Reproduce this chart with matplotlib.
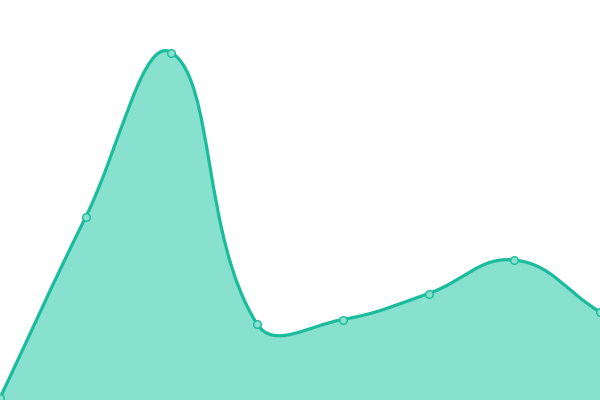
import matplotlib
matplotlib.use("Agg")
import matplotlib.pyplot as plt
from matplotlib.path import Path
from matplotlib.patches import PathPatch
import numpy as np

categories = ["1", "2", "3", "4", "5", "6", "7", "8"]
values = [2, 183, 347.5, 76, 80.5, 106.5, 140, 88]

LINE = "#1abc9c"
FILL = "#88e0cf"
W, H = 600, 400
smooth = 0.42

fig = plt.figure(figsize=(6, 4), dpi=100)
ax = fig.add_axes([0, 0, 1, 1])
n = len(values)
ax.set_xlim(0, n - 1)
ax.set_ylim(0, 400)
ax.axis("off")

sx = W / (n - 1)
pts = [(i * sx, v) for i, v in enumerate(values)]

def ctrl(i):
    x, y = pts[i]
    px, py = pts[i - 1] if i > 0 else pts[i]
    nx, ny = pts[i + 1] if i < n - 1 else pts[i]
    vx, vy = nx - px, ny - py
    lp = np.hypot(x - px, y - py)
    ln = np.hypot(nx - x, ny - y)
    r = ln / (ln + lp) if (ln + lp) > 0 else 0.5
    cin = (x - vx * smooth * (1 - r), y - vy * smooth * (1 - r))
    cout = (x + vx * smooth * r, y + vy * smooth * r)
    return cin, cout

verts = [pts[0]]
codes = [Path.MOVETO]
for i in range(n - 1):
    _, c1 = ctrl(i)
    c2, _ = ctrl(i + 1)
    verts += [c1, c2, pts[i + 1]]
    codes += [Path.CURVE4] * 3

def todata(v):
    return [(x / sx, y) for x, y in v]

line_verts = todata(verts)
line_path = Path(line_verts, codes)
fill_verts = line_verts + [(n - 1, 0), (0, 0), line_verts[0]]
fill_codes = codes + [Path.LINETO, Path.LINETO, Path.CLOSEPOLY]
ax.add_patch(PathPatch(Path(fill_verts, fill_codes), facecolor=FILL, edgecolor="none", zorder=1))
ax.add_patch(PathPatch(line_path, facecolor="none", edgecolor=LINE, lw=2.3, zorder=2))

ax.plot(range(n), values, "o", ms=5.5, mfc=FILL, mec=LINE, mew=1.0, zorder=3, clip_on=False)

fig.savefig("out.png", dpi=100)
